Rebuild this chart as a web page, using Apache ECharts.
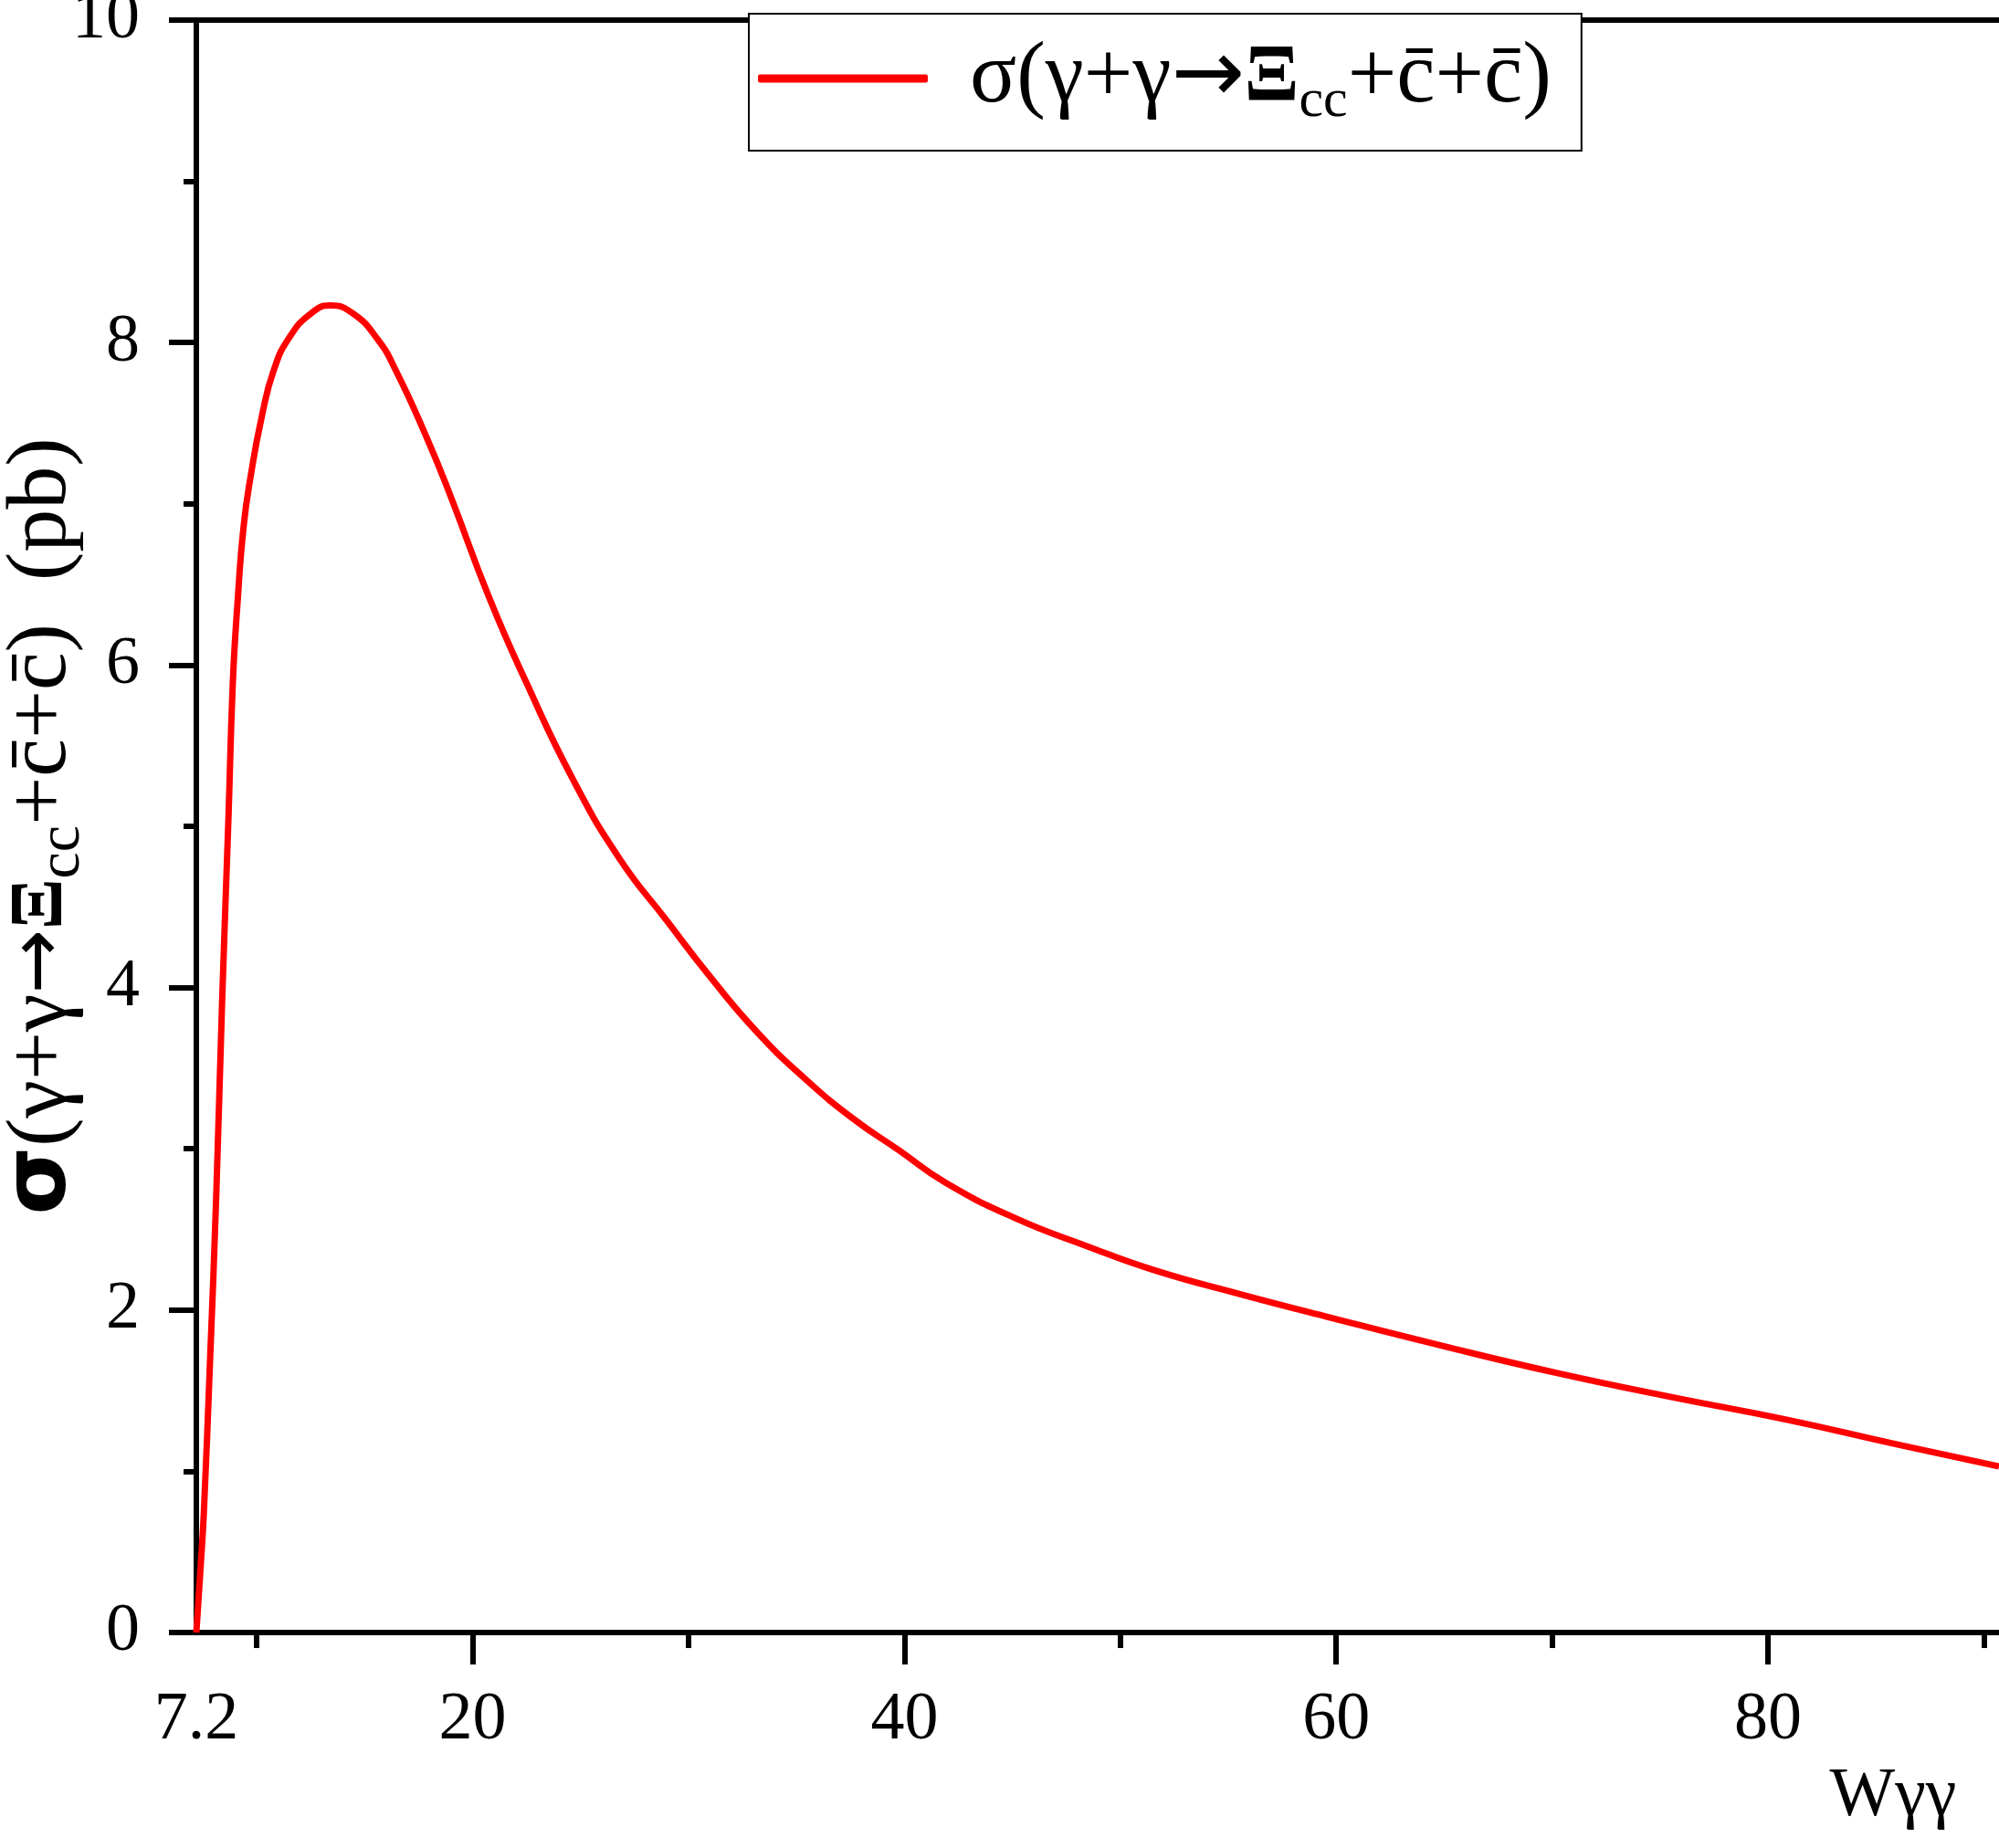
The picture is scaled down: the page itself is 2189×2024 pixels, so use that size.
<!DOCTYPE html>
<html>
<head>
<meta charset="utf-8">
<script src="https://cdn.jsdelivr.net/npm/echarts@6/dist/echarts.min.js"></script>
<style>
html,body{margin:0;padding:0;background:#fff;}
#chart{width:2189px;height:2024px;}
</style>
</head>
<body>
<div id="chart"></div>
<script>
// ---- data ----
const seriesName = 'σ(γ+γ→Ξcc+c̄+c̄)';
const wValues = [7.2, 7.41, 7.55, 7.83, 8.12, 8.40, 8.68, 8.89, 9.10, 9.39, 9.74, 10.23, 10.79, 11.5, 12.5, 13.4, 14.46, 15.6, 16.43, 17.84, 18.97, 20.76, 22.49, 24.65, 26.8, 28.96, 31.1, 33.27, 35.43, 37.59, 39.75, 41.9, 45.13, 48.38, 51.5, 55.5, 59.52, 64.85, 70.2, 75.53, 80.86, 86.2, 90.7];
const sigmaValues = [0, 0.43, 0.75, 1.67, 2.70, 3.94, 5.02, 5.89, 6.37, 6.86, 7.19, 7.54, 7.83, 8.03, 8.18, 8.23, 8.18, 8.02, 7.83, 7.42, 7.05, 6.42, 5.89, 5.29, 4.80, 4.42, 4.05, 3.71, 3.43, 3.19, 2.99, 2.79, 2.57, 2.40, 2.25, 2.10, 1.96, 1.78, 1.61, 1.46, 1.32, 1.16, 1.03];
const xLabelValues = [7.2, 20, 40, 60, 80];
const xMajorTicks = [20, 40, 60, 80];
const xMinorTicks = [10, 30, 50, 70, 90];
const xMin = 7.2, xMax = 90.7;
const yMin = 0, yMax = 10;

const font = 'Liberation Serif';
const chart = echarts.init(document.getElementById('chart'));
const lineData = wValues.map((w, i) => [w, sigmaValues[i]]);

const option = {
  backgroundColor: '#fff',
  animation: false,
  grid: { left: 215, right: 0, top: 22, bottom: 236, containLabel: false, outerBoundsMode: 'none' },
  legend: {
    left: 820, top: 15,
    data: [seriesName],
    icon: 'roundRect',
    itemWidth: 186, itemHeight: 9,
    borderColor: '#000', borderWidth: 2,
    backgroundColor: '#fff',
    padding: [23, 33, 24, 10],
    formatter: () => '{p|σ(γ+γ}{a|→}{b|Ξ}{sub|cc}{p|+c̄+c̄)}',
    textStyle: {
      padding: [0, 0, 0, 41],
      rich: {
        p: { fontFamily: font, fontSize: 95, color: '#000' },
        a: { fontFamily: 'DejaVu Sans', fontSize: 96, color: '#000' },
        b: { fontFamily: font, fontSize: 88, fontWeight: 'bold', color: '#000' },
        sub: { fontFamily: font, fontSize: 60, color: '#000', padding: [50, 0, 0, 0] }
      }
    }
  },
  xAxis: [
    {
      type: 'value', min: xMin, max: xMax, position: 'bottom',
      name: 'Wγγ', nameLocation: 'end', nameGap: -116, nameMoveOverlap: false,
      nameTextStyle: { fontFamily: font, fontSize: 76, color: '#000', align: 'center', verticalAlign: 'top', padding: [142, 0, 0, 0] },
      axisLine: { show: true, onZero: false, lineStyle: { color: '#000', width: 6 } },
      axisTick: { show: true, customValues: xMajorTicks, length: 35, lineStyle: { color: '#000', width: 6 } },
      axisLabel: {
        show: true, customValues: xLabelValues, margin: 60,
        fontFamily: font, fontSize: 74, color: '#000',
        formatter: v => (v === 7.2 ? '7.2' : String(v))
      },
      splitLine: { show: false }
    },
    {
      type: 'value', min: xMin, max: xMax, position: 'bottom',
      axisLine: { show: false },
      axisTick: { show: true, customValues: xMinorTicks, length: 17, lineStyle: { color: '#000', width: 6 } },
      axisLabel: { show: false },
      splitLine: { show: false }
    },
    {
      type: 'value', min: xMin, max: xMax, position: 'top',
      axisLine: { show: true, onZero: false, lineStyle: { color: '#000', width: 6 } },
      axisTick: { show: false },
      axisLabel: { show: false },
      splitLine: { show: false }
    }
  ],
  yAxis: {
    type: 'value', min: yMin, max: yMax, interval: 2, position: 'left',
    name: '{s|σ}{p|(γ+γ}{a|→}{b|Ξ}{sub|cc}{p|+c̄+c̄)  (pb)}',
    nameLocation: 'middle', nameGap: 113, nameRotate: 90, nameMoveOverlap: false,
    nameTextStyle: {
      color: '#000',
      rich: {
        s: { fontFamily: 'DejaVu Sans', fontSize: 96, fontWeight: 'bold', color: '#000' },
        p: { fontFamily: font, fontSize: 94, color: '#000' },
        a: { fontFamily: 'DejaVu Sans', fontSize: 84, color: '#000' },
        b: { fontFamily: font, fontSize: 82, fontWeight: 'bold', color: '#000' },
        sub: { fontFamily: font, fontSize: 66, color: '#000', padding: [46, 0, 0, 0] }
      }
    },
    axisLine: { show: true, onZero: false, lineStyle: { color: '#000', width: 6 } },
    axisTick: { show: true, length: 30, lineStyle: { color: '#000', width: 6 } },
    minorTick: { show: true, splitNumber: 2, length: 14, lineStyle: { color: '#000', width: 6 } },
    axisLabel: { show: true, margin: 62, fontFamily: font, fontSize: 74, color: '#000' },
    splitLine: { show: false }
  },
  series: [{
    name: seriesName,
    type: 'line',
    xAxisIndex: 0,
    data: lineData,
    showSymbol: false,
    smooth: true,
    lineStyle: { color: '#ff0000', width: 7 },
    itemStyle: { color: '#ff0000' }
  }]
};
chart.setOption(option);
</script>
</body>
</html>
